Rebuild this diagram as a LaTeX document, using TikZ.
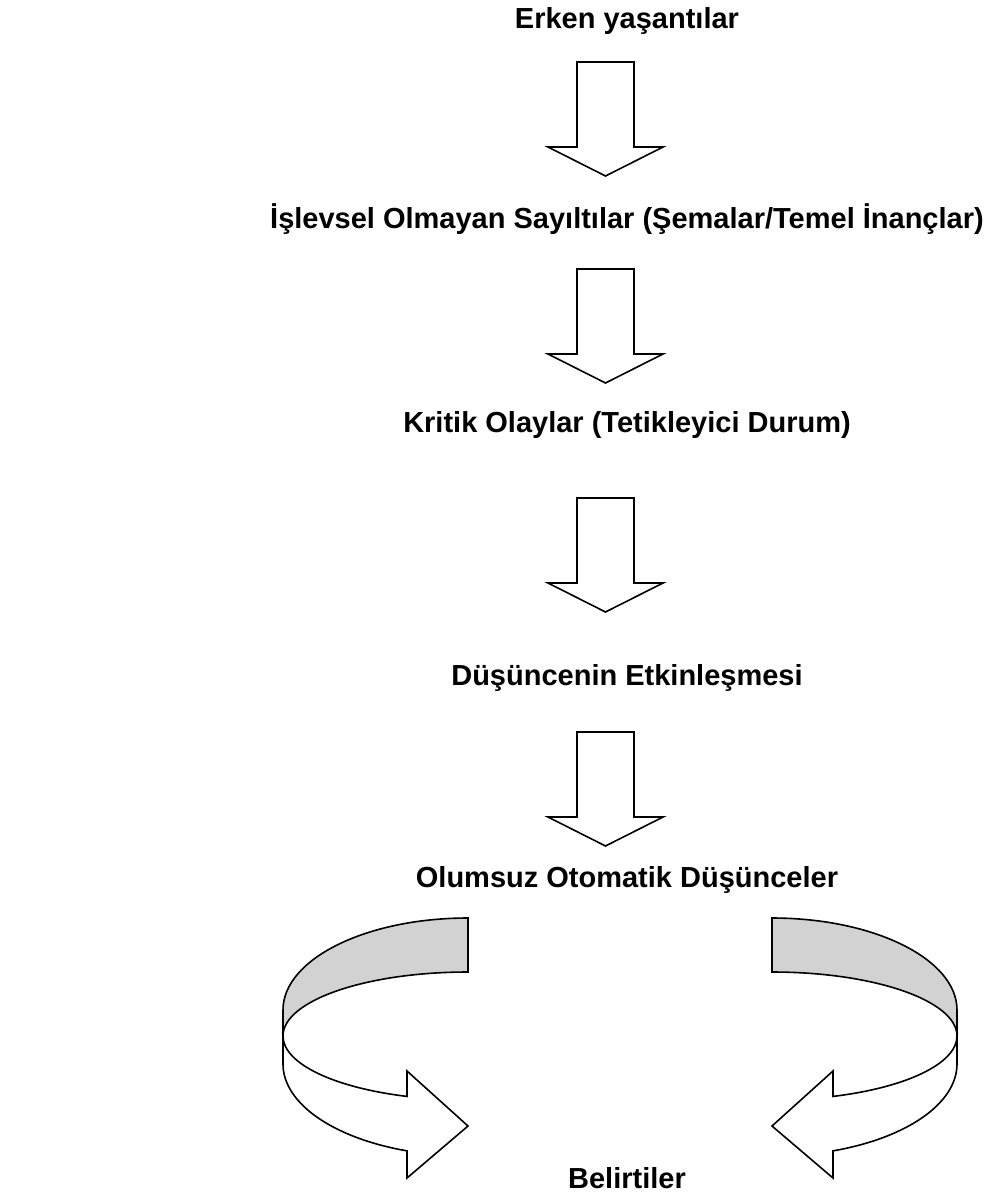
\documentclass[tikz,border=0pt]{standalone}
\usepackage{fontspec}
\setmainfont{Liberation Sans}
\usepackage{tikz}

\begin{document}
\begin{tikzpicture}[x=0.5pt,y=0.5pt,yscale=-1,xscale=1,
  lbl/.style={anchor=base, inner sep=0pt, font=\fontsize{14.5}{17}\selectfont\bfseries},
  blockline/.style={draw=black, line width=0.8pt, fill=white, line join=miter},
  bandgray/.style={draw=black, line width=0.8pt, fill={rgb, 255:red, 210; green, 210; blue, 210}},
  downblock/.pic={
    \draw[blockline] (-28.5,0) -- (28.5,0) -- (28.5,85) -- (57.5,85) -- (0,114) -- (-57.5,85) -- (-28.5,85) -- cycle ;
  },
  turnarrow/.pic={
    %back side of the band
    \draw[bandgray] (0,-118) arc[start angle=-90, end angle=-180, x radius=185, y radius=92] -- (-185,0) arc[start angle=180, end angle=270, x radius=185, y radius=64] -- cycle ;
    %front side of the band with head
    \draw[blockline] (-185,0) -- (-185,28) arc[start angle=180, end angle=109.25, x radius=185, y radius=92] -- (-61,142) -- (0,90) -- (-61,35) -- (-61,60.4) arc[start angle=109.25, end angle=180, x radius=185, y radius=64] -- cycle ;
  }]
\useasboundingbox (0,0) rectangle (985,1196);

%Texts
\node[lbl] (erken) at (627,28) {Erken yaşantılar};
\node[lbl] (sayilti) at (627,228) {İşlevsel Olmayan Sayıltılar (Şemalar/Temel İnançlar)};
\node[lbl] (kritik) at (627,432) {Kritik Olaylar (Tetikleyici Durum)};
\node[lbl] (etkin) at (627,685) {Düşüncenin Etkinleşmesi};
\node[lbl] (olumsuz) at (627,887) {Olumsuz Otomatik Düşünceler};
\node[lbl] (belirti) at (627,1188) {Belirtiler};

%Block Arrows
\coordinate (a1) at (605.5,62);
\coordinate (a2) at (605.5,269);
\coordinate (a3) at (605.5,498);
\coordinate (a4) at (605.5,732);
\pic[transform shape] at (a1) {downblock};
\pic[transform shape] at (a2) {downblock};
\pic[transform shape] at (a3) {downblock};
\pic[transform shape] at (a4) {downblock};

%Curved Arrows
\coordinate (cl) at (468,1036);
\coordinate (cr) at (772,1036);
\pic[transform shape] at (cl) {turnarrow};
\pic[transform shape, xscale=-1] at (cr) {turnarrow};

\end{tikzpicture}
\end{document}
